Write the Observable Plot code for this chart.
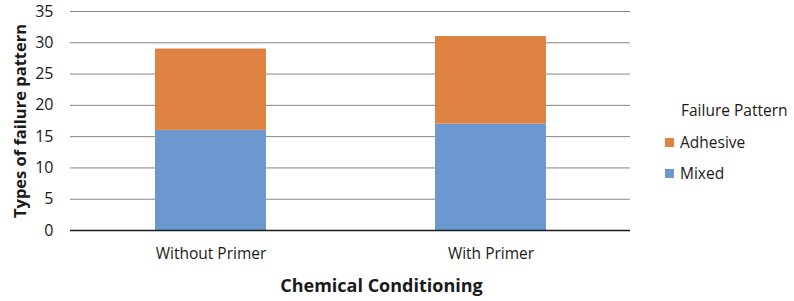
<!DOCTYPE html>
<html>
<head>
<meta charset="utf-8">
<script src="https://cdn.jsdelivr.net/npm/d3@7"></script>
<script src="https://cdn.jsdelivr.net/npm/@observablehq/plot@0.6"></script>
<style>
  html, body { margin: 0; padding: 0; background: #fff; }
  #wrap { position: relative; width: 794px; height: 301px; font-family: "Open Sans", sans-serif; }
  #legend { position: absolute; left: 665px; top: 99px; color: #1a1a1a; }
  #legend .title { margin-left: 16px; margin-bottom: 11px; font-size: 15.5px; }
  #legend .item { display: flex; align-items: center; height: 20px; margin-bottom: 11px; font-size: 15.5px; }
  #legend .sw { width: 9px; height: 9px; margin-right: 6px; }
</style>
</head>
<body>
<div id="wrap"></div>
<script>
// Failure pattern counts per chemical conditioning group
const categories = ["Without Primer", "With Primer"];
const seriesNames = ["Mixed", "Adhesive"];
const mixed = [16, 17];
const adhesive = [13, 14];
const yTicks = [0, 5, 10, 15, 20, 25, 30, 35];
const colors = ["#6a98cf", "#df8343"];
const legendTitle = "Failure Pattern";

const rows = [];
categories.forEach((c, i) => {
  rows.push({category: c, pattern: "Mixed", count: mixed[i]});
  rows.push({category: c, pattern: "Adhesive", count: adhesive[i]});
});

const chart = Plot.plot({
  width: 794,
  height: 301,
  marginLeft: 70,
  marginRight: 164,
  marginTop: 11,
  marginBottom: 71,
  style: {fontFamily: "Open Sans, sans-serif", color: "#1a1a1a", background: "#fff"},
  x: {domain: categories, paddingInner: 0.604, paddingOuter: 0.302},
  y: {domain: [0, 35]},
  color: {domain: seriesNames, range: colors},
  marks: [
    Plot.ruleY(yTicks, {stroke: "#858585", strokeWidth: 1}),
    Plot.barY(rows, {x: "category", y: "count", fill: "pattern", order: seriesNames}),
    Plot.ruleX([0], {x: () => null, frameAnchor: "left", stroke: "#858585"}),
    Plot.ruleY([0], {stroke: "#1a1a1a", strokeWidth: 1.5}),
    Plot.axisY(yTicks, {
      tickSize: 0, tickPadding: 17, fontSize: 16,
      label: "Types of failure pattern", labelAnchor: "center", labelArrow: "none", labelOffset: 56
    }),
    Plot.axisX({
      tickSize: 0, tickPadding: 17, fontSize: 15.5,
      label: "Chemical Conditioning", labelAnchor: "center", labelArrow: "none", labelOffset: 61
    })
  ]
});

// bold axis titles at their own sizes; the x title sits centred under the whole chart
const svg = d3.select(chart);
svg.selectAll('[aria-label="y-axis label"] text, [aria-label="x-axis label"] text')
  .style("font-weight", "bold");
svg.selectAll('[aria-label="y-axis label"]').attr("font-size", 16.5);
const xLabel = svg.select('[aria-label="x-axis label"]').attr("font-size", 18);
xLabel.attr("transform", `translate(31,0) ${xLabel.attr("transform") || ""}`);

const wrap = document.getElementById("wrap");
wrap.appendChild(chart);

// legend: series listed top-down in reverse stacking order
const legend = d3.select(wrap).append("div").attr("id", "legend");
legend.append("div").attr("class", "title").text(legendTitle);
seriesNames.slice().reverse().forEach(name => {
  const it = legend.append("div").attr("class", "item");
  it.append("div").attr("class", "sw").style("background", colors[seriesNames.indexOf(name)]);
  it.append("span").text(name);
});
</script>
</body>
</html>
